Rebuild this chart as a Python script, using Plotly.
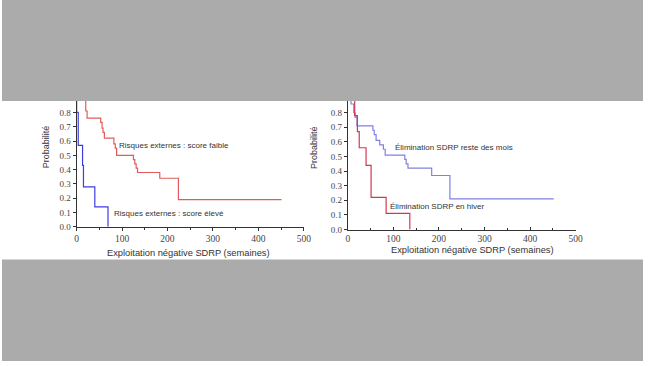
import plotly.graph_objects as go

# ---------------- data ----------------
# Left panel: external risk score
high_t = [0, 0, 3.5, 13, 15, 40, 69]
high_s = [1.0, 0.80, 0.57, 0.43, 0.28, 0.14, 0.0]

low_t = [0, 20, 23, 53, 56, 58, 61, 82, 85, 88, 125, 128, 131, 134, 183, 224, 451]
low_s = [1.0, 0.81, 0.76, 0.73, 0.69, 0.66, 0.62, 0.58, 0.55, 0.50, 0.47, 0.44, 0.41, 0.38, 0.34, 0.19, 0.19]

# Right panel: SDRP elimination season
rest_t = [0, 7, 13, 16, 20, 55, 58, 62, 70, 78, 82, 125, 128, 132, 184, 224, 452]
rest_s = [1.0, 0.86, 0.80, 0.77, 0.71, 0.68, 0.65, 0.61, 0.58, 0.55, 0.51, 0.48, 0.45, 0.42, 0.37, 0.21, 0.21]

winter_t = [0, 10, 15, 21, 25, 40, 51, 84, 136]
winter_s = [1.0, 0.89, 0.78, 0.67, 0.56, 0.44, 0.22, 0.11, 0.0]

x_ticks = [0, 100, 200, 300, 400, 500]
y_ticks = [0.0, 0.1, 0.2, 0.3, 0.4, 0.5, 0.6, 0.7, 0.8]

labels = {
    "low": "Risques externes : score faible",
    "high": "Risques externes : score élevé",
    "rest": "Élimination SDRP reste des mois",
    "winter": "Élimination SDRP en hiver",
}
x_title = "Exploitation négative SDRP (semaines)"
y_title = "Probabilité"

# ---------------- layout helpers ----------------
W, H = 650, 366
def px(x):
    return x / W
def py(y):
    return 1 - y / H

GRAY = "#ababab"
AX = "#333333"
SERIF = "Liberation Serif, Times New Roman, serif"
SANS = "Liberation Sans, Arial, sans-serif"

band_top, band_bot = 102.5, 263

# left plot pixel geometry
L_x0, L_x500 = 75.7, 306.0
L_y0, L_pix_per_1 = 230.0, 145.0
# right plot pixel geometry
R_x0, R_x500 = 350.7, 581.7
R_y0, R_pix_per_1 = 232.7, 148.0

fig = go.Figure()

def add(t, s, color, xa, ya):
    fig.add_trace(go.Scatter(x=t, y=s, mode="lines", xaxis=xa, yaxis=ya,
                             line=dict(shape="hv", color=color, width=1.2),
                             hoverinfo="skip", showlegend=False))

add(low_t, low_s, "rgb(224,92,92)", "x", "y")
add(high_t, high_s, "rgb(60,60,225)", "x", "y")
add(rest_t, rest_s, "rgb(128,128,228)", "x2", "y2")
add(winter_t, winter_s, "rgb(212,55,85)", "x2", "y2")

def xaxis(domain, anchor, tickdir):
    return dict(domain=domain, anchor=anchor, range=[0, 500], tickvals=x_ticks,
                showline=True, linecolor=AX, linewidth=1, ticks=tickdir,
                ticklen=3, tickcolor=AX, tickfont=dict(family=SERIF, size=9.5, color="#444"),
                minor=dict(ticks=tickdir, ticklen=2, dtick=50, tickcolor=AX),
                showgrid=False, zeroline=False, fixedrange=True)

def yaxis(domain, anchor, top):
    return dict(domain=domain, anchor=anchor, range=[0, top], tickvals=y_ticks,
                tickformat=".1f", showline=True, linecolor=AX, linewidth=1,
                ticks="outside", ticklen=3, tickcolor=AX,
                tickfont=dict(family=SERIF, size=9, color="#444"),
                showgrid=False, zeroline=False, fixedrange=True)

fig.update_layout(
    autosize=True,
    margin=dict(l=0, r=0, t=0, b=0, pad=0),
    paper_bgcolor="white", plot_bgcolor="rgba(0,0,0,0)",
    showlegend=False,
    xaxis=xaxis([px(L_x0), px(L_x500)], "y", "outside"),
    yaxis=yaxis([py(L_y0), py(band_top)], "x", (L_y0 - band_top) / L_pix_per_1),
    xaxis2=xaxis([px(R_x0), px(R_x500)], "y2", "inside"),
    yaxis2=yaxis([py(R_y0), py(band_top)], "x2", (R_y0 - band_top) / R_pix_per_1),
)

# gray bands above and below the white strip
fig.add_shape(type="rect", xref="paper", yref="paper", x0=0, x1=1, y0=py(band_top), y1=1,
              fillcolor=GRAY, line=dict(width=0), layer="above")
fig.add_shape(type="rect", xref="paper", yref="paper", x0=0, x1=1, y0=0, y1=py(band_bot),
              fillcolor=GRAY, line=dict(width=0), layer="above")

def note(text, x, y, size=8, angle=0, xanchor="left"):
    fig.add_annotation(text=text, x=px(x), y=py(y), xref="paper", yref="paper",
                       showarrow=False, xanchor=xanchor, yanchor="middle",
                       textangle=angle, font=dict(family=SANS, size=size, color="#333"))

note(labels["low"], 117, 147.5)
note(labels["high"], 111.5, 216.5)
note(labels["rest"], 396.5, 149.5)
note(labels["winter"], 391.5, 209.5)

note(x_title, 189, 256, size=9.3, xanchor="center")
note(x_title, 477.5, 253.5, size=9.3, xanchor="center")
note(y_title, 45, 149, size=9, angle=-90, xanchor="center")
note(y_title, 316.5, 150, size=9, angle=-90, xanchor="center")

post = (
    "var h=document.documentElement, b=document.body;"
    "h.style.margin='0';h.style.padding='0';h.style.overflow='hidden';"
    "b.style.margin='0';b.style.padding='0';b.style.overflow='hidden';"
)

fig.write_html("out.html", config={"displayModeBar": False},
               default_width="100vw", default_height="100vh", post_script=post)
